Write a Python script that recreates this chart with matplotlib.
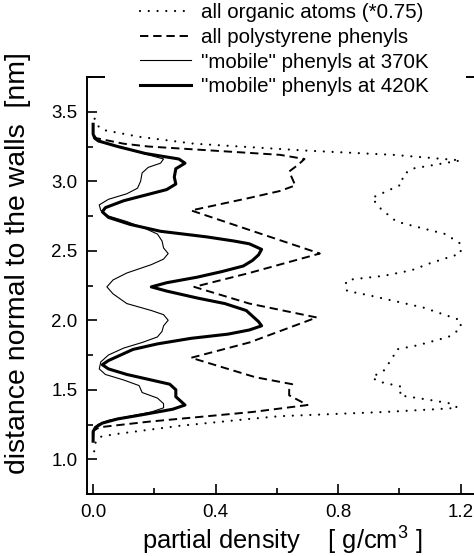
import matplotlib
matplotlib.use("Agg")
import matplotlib.pyplot as plt
from matplotlib.patches import Rectangle
from matplotlib.ticker import MultipleLocator, FormatStrFormatter

plt.rcParams['font.family'] = ['Liberation Sans', 'DejaVu Sans']
plt.rcParams['mathtext.fontset'] = 'custom'
plt.rcParams['mathtext.rm'] = 'Liberation Sans'
plt.rcParams['mathtext.it'] = 'Liberation Sans:italic'
plt.rcParams['lines.scale_dashes'] = False

# ---- data: distance normal to the walls [nm] vs partial density [g/cm^3]
organic_y = [3.45, 3.40, 3.37, 3.32, 3.27, 3.22, 3.19, 3.15, 3.12, 3.09, 3.04, 2.98,
             2.88, 2.80, 2.71, 2.67, 2.62, 2.55, 2.48, 2.41, 2.36, 2.32, 2.29, 2.24,
             2.21, 2.18, 2.13, 2.09, 2.00, 1.94, 1.88, 1.82, 1.79, 1.74, 1.64, 1.59,
             1.56, 1.52, 1.46, 1.43, 1.40, 1.37, 1.36, 1.34, 1.31, 1.29, 1.24, 1.18,
             1.16, 1.12, 1.01]
organic_x = [0.005, 0.015, 0.03, 0.15, 0.33, 0.70, 0.98, 1.20, 1.12, 1.04, 1.01, 1.01,
             0.91, 0.94, 0.99, 1.06, 1.15, 1.20, 1.20, 1.10, 1.04, 0.95, 0.83, 0.82,
             0.83, 0.90, 1.00, 1.08, 1.20, 1.20, 1.16, 1.06, 0.99, 0.98, 0.95, 0.91,
             0.93, 1.01, 1.00, 1.09, 1.17, 1.19, 1.12, 0.95, 0.61, 0.51, 0.28, 0.07,
             0.02, 0.008, 0.0]

phenyl_y = [3.33, 3.31, 3.27, 3.25, 3.19, 3.16, 3.12, 3.07, 3.02, 2.97, 2.93, 2.88,
            2.79, 2.48, 2.34, 2.24, 2.12, 2.02, 1.84, 1.73, 1.59, 1.54, 1.50, 1.46,
            1.39, 1.34, 1.27, 1.23, 1.21]
phenyl_x = [0.003, 0.01, 0.10, 0.18, 0.61, 0.69, 0.67, 0.64, 0.65, 0.66, 0.61, 0.51,
            0.32, 0.74, 0.51, 0.33, 0.51, 0.73, 0.51, 0.32, 0.53, 0.65, 0.64, 0.64,
            0.70, 0.52, 0.18, 0.02, 0.005]

mob370_y = [3.41, 3.34, 3.30, 3.26, 3.22, 3.19, 3.16, 3.13, 3.10, 3.06, 3.00, 2.95,
            2.91, 2.87, 2.83, 2.79, 2.75, 2.71, 2.66, 2.62, 2.57, 2.52, 2.48, 2.44,
            2.40, 2.34, 2.29, 2.24, 2.19, 2.12, 2.07, 2.04, 2.00, 1.96, 1.92, 1.88,
            1.84, 1.80, 1.75, 1.70, 1.65, 1.61, 1.57, 1.53, 1.48, 1.44, 1.40, 1.37,
            1.34, 1.31, 1.28, 1.25, 1.21, 1.13]
mob370_x = [0.0, 0.0, 0.01, 0.06, 0.13, 0.18, 0.23, 0.22, 0.18, 0.16, 0.155, 0.145,
            0.11, 0.05, 0.02, 0.025, 0.05, 0.11, 0.17, 0.21, 0.225, 0.23, 0.245, 0.23,
            0.19, 0.11, 0.065, 0.045, 0.065, 0.11, 0.19, 0.23, 0.245, 0.23, 0.225, 0.21,
            0.16, 0.10, 0.05, 0.025, 0.02, 0.04, 0.10, 0.15, 0.16, 0.21, 0.23, 0.23,
            0.19, 0.12, 0.05, 0.015, 0.003, 0.0]

mob420_y = [3.41, 3.34, 3.31, 3.29, 3.25, 3.20, 3.16, 3.13, 3.09, 3.03, 2.98, 2.94,
            2.90, 2.86, 2.81, 2.78, 2.74, 2.69, 2.64, 2.60, 2.57, 2.55, 2.51, 2.47,
            2.43, 2.39, 2.35, 2.31, 2.27, 2.24, 2.21, 2.16, 2.12, 2.07, 2.03, 1.99,
            1.96, 1.93, 1.90, 1.87, 1.83, 1.79, 1.75, 1.71, 1.68, 1.65, 1.61, 1.57,
            1.54, 1.50, 1.45, 1.42, 1.39, 1.36, 1.32, 1.29, 1.26, 1.23, 1.20, 1.13]
mob420_x = [0.0, 0.0, 0.005, 0.017, 0.08, 0.17, 0.28, 0.30, 0.27, 0.265, 0.27, 0.24,
            0.17, 0.10, 0.04, 0.03, 0.05, 0.12, 0.22, 0.37, 0.46, 0.51, 0.55, 0.54,
            0.52, 0.49, 0.42, 0.34, 0.24, 0.19, 0.24, 0.34, 0.43, 0.50, 0.52, 0.54,
            0.55, 0.51, 0.44, 0.32, 0.21, 0.13, 0.09, 0.05, 0.03, 0.05, 0.11, 0.19,
            0.25, 0.27, 0.27, 0.285, 0.30, 0.26, 0.16, 0.08, 0.03, 0.008, 0.0, 0.0]

labels = ['all organic atoms (*0.75)', 'all polystyrene phenyls',
          '"mobile" phenyls at 370K', '"mobile" phenyls at 420K']

W, H = 474, 556
fig = plt.figure(figsize=(W / 100, H / 100), dpi=100)
ax = fig.add_axes([87 / W, 1 - 494 / H, (476 - 87) / W, (494 - 77) / H])

l1, = ax.plot(organic_x, organic_y, color='black', lw=1.6,
              linestyle=(0, (0.01, 6.3)), dash_capstyle='round')
l2, = ax.plot(phenyl_x, phenyl_y, color='black', lw=1.4, linestyle=(0, (6, 3.5)))
l3, = ax.plot(mob370_x, mob370_y, color='black', lw=0.8)
l4, = ax.plot(mob420_x, mob420_y, color='black', lw=2.2)

ax.set_xlim(-0.02, 1.25)
ax.set_ylim(0.75, 3.75)
ax.xaxis.set_major_locator(MultipleLocator(0.4))
ax.xaxis.set_minor_locator(MultipleLocator(0.2))
ax.yaxis.set_major_locator(MultipleLocator(0.5))
ax.yaxis.set_minor_locator(MultipleLocator(0.25))
ax.xaxis.set_major_formatter(FormatStrFormatter('%.1f'))
ax.yaxis.set_major_formatter(FormatStrFormatter('%.1f'))
ax.tick_params(which='both', direction='in', top=False, right=False,
               labelsize=13.5, width=1.2, pad=7)
ax.tick_params(which='major', length=7)
ax.tick_params(which='minor', length=4)
for s in ax.spines.values():
    s.set_linewidth(1.4)

# white band behind the legend (hides the top frame there)
fig.add_artist(Rectangle((105 / W, 1 - 97 / H), (466 - 105) / W, 30 / H,
                         transform=fig.transFigure, facecolor='white',
                         edgecolor='none', zorder=3))

leg = fig.legend([l1, l2, l3, l4], labels, loc='upper left',
                 bbox_to_anchor=(140 / W, 1 - 3 / H), frameon=False,
                 fontsize=14.8, handlelength=2.5, handletextpad=0.45,
                 labelspacing=0.28, borderpad=0, borderaxespad=0)
leg.set_zorder(5)

fig.text(282 / W, 1 - 541 / H, 'partial density    [ g/cm$^3$ ]',
         ha='center', va='center', fontsize=18.4)
fig.text(18 / W, 1 - 263 / H, 'distance normal to the walls  [nm]',
         ha='center', va='center', rotation=90, fontsize=20.4)

fig.savefig('out.png', dpi=100)
